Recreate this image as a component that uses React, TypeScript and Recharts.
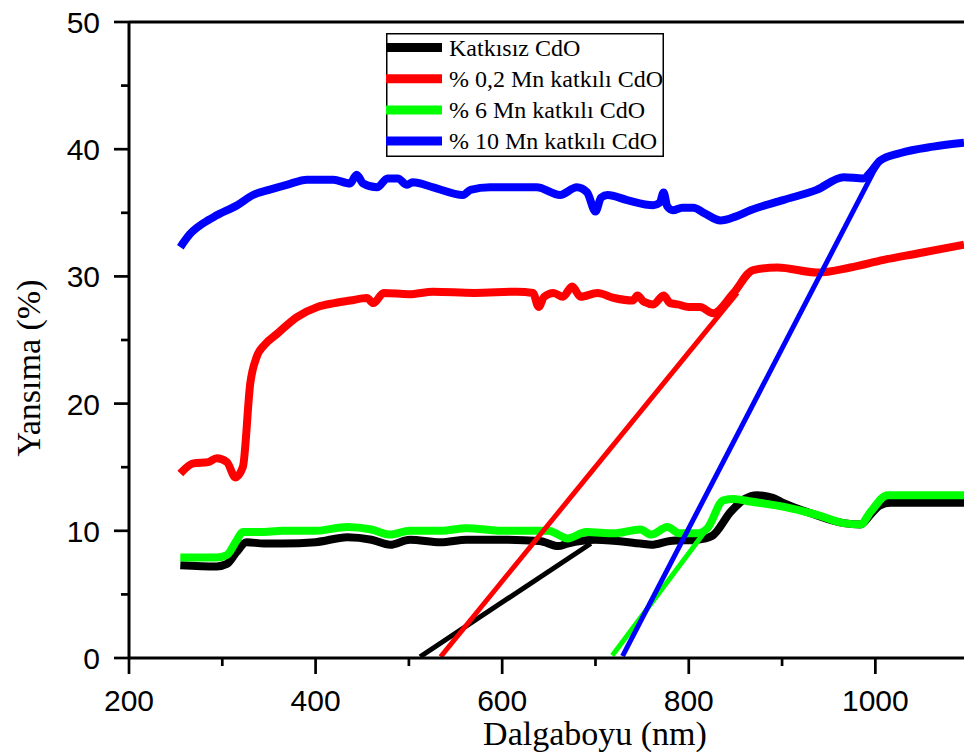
import React from 'react';
import { LineChart, Line, XAxis, YAxis, ReferenceLine, Legend, Label } from 'recharts';

// Wavelength (nm) / reflectance (%) pairs
const katkisizCurve: [number, number][] = [
  [255, 7.3], [294, 7.2], [305, 7.4], [315, 8.3], [326, 9.1], [345, 9.0], [365, 9.0], [400, 9.1],
  [434, 9.5], [460, 9.3], [480, 8.9], [501, 9.3], [534, 9.1], [562, 9.3], [600, 9.3], [640, 9.2],
  [660, 8.8], [670, 9.0], [700, 9.3], [748, 9.0], [760, 8.9], [780, 9.2], [809, 9.3], [825, 9.6],
  [845, 11.5], [860, 12.5], [873, 12.8], [890, 12.6], [901, 12.2], [930, 11.4], [966, 10.6],
  [984, 10.5], [995, 11.3], [1005, 12.0], [1016, 12.2], [1095, 12.2],
];
const mn02Curve: [number, number][] = [
  [255, 14.5], [269, 15.3], [285, 15.4], [294, 15.7], [305, 15.4], [314, 14.2], [322, 15.0],
  [330, 21.6], [337, 23.7], [345, 24.6], [359, 25.5], [380, 26.8], [402, 27.6], [420, 27.9],
  [437, 28.1], [455, 28.3], [462, 27.9], [473, 28.7], [500, 28.6], [526, 28.8], [570, 28.7],
  [616, 28.8], [633, 28.7], [639, 27.6], [645, 28.4], [655, 28.7], [665, 28.4], [675, 29.2],
  [684, 28.4], [702, 28.7], [720, 28.3], [740, 28.1], [745, 28.5], [752, 28.0], [762, 27.8],
  [773, 28.5], [780, 27.9], [788, 27.8], [800, 27.6], [812, 27.6], [826, 27.1], [848, 28.7],
  [869, 30.5], [895, 30.7], [938, 30.3], [973, 30.7], [1009, 31.3], [1045, 31.8], [1095, 32.5],
];
const mn6Curve: [number, number][] = [
  [255, 7.9], [294, 7.9], [305, 8.1], [315, 9.2], [322, 9.9], [340, 9.9], [365, 10.0], [400, 10.0],
  [434, 10.3], [460, 10.1], [480, 9.7], [501, 10.0], [534, 10.0], [562, 10.2], [600, 10.0],
  [650, 10.0], [660, 9.7], [670, 9.4], [690, 9.9], [720, 9.8], [748, 10.1], [760, 9.7],
  [777, 10.3], [790, 9.8], [809, 9.8], [820, 10.2], [837, 12.4], [848, 12.5], [866, 12.3],
  [901, 11.9], [940, 11.2], [966, 10.6], [984, 10.5], [995, 11.5], [1013, 12.8], [1095, 12.8],
];
const mn10Curve: [number, number][] = [
  [255, 32.3], [265, 33.3], [280, 34.2], [294, 34.8], [316, 35.6], [333, 36.4], [350, 36.8],
  [369, 37.2], [391, 37.6], [419, 37.6], [437, 37.3], [444, 38.0], [451, 37.3], [466, 37.0],
  [477, 37.7], [488, 37.7], [498, 37.2], [504, 37.4], [526, 37.0], [558, 36.4], [566, 36.8],
  [587, 37.0], [609, 37.0], [637, 37.0], [662, 36.4], [680, 37.0], [691, 36.6], [700, 35.1],
  [706, 36.2], [713, 36.4], [734, 36.0], [762, 35.6], [769, 35.8], [773, 36.6], [777, 35.5],
  [783, 35.2], [793, 35.4], [805, 35.4], [816, 35.0], [834, 34.4], [850, 34.7], [866, 35.2],
  [901, 36.0], [937, 36.8], [966, 37.8], [987, 37.7], [995, 38.2], [1005, 39.1], [1027, 39.7],
  [1062, 40.2], [1095, 40.5],
];

// Linear band-edge fits
const katkisizFit: [number, number][] = [[512, 0.1], [695, 9.0]];
const mn02Fit: [number, number][] = [[534, 0.1], [852, 28.7]];
const mn6Fit: [number, number][] = [[718, 0.2], [820, 10.2]];
const mn10Fit: [number, number][] = [[729, 0.15], [1005, 39.2]];

const seriesNames = ['Katkısız CdO', '% 0,2 Mn katkılı CdO', '% 6 Mn katkılı CdO', '% 10 Mn katkılı CdO'];
const seriesColors = ['#000000', '#ff0000', '#00ff00', '#0000ff'];

const xTicks = [200, 300, 400, 500, 600, 700, 800, 900, 1000];
const yTicks = [0, 5, 10, 15, 20, 25, 30, 35, 40, 45, 50];

const SANS = '"Liberation Sans", Arial, sans-serif';
const SERIF = '"Liberation Serif", "Times New Roman", serif';

const toRows = (pts: [number, number][]) => pts.map(([x, y]) => ({ x, y }));

const XTick = (props: any) => {
  const { x, y, payload } = props;
  const major = payload.value % 200 === 0;
  return (
    <g>
      <line x1={x} x2={x} y1={y} y2={y + (major ? 16 : 8)} stroke="#000" strokeWidth={2.7} />
      {major && (
        <text x={x} y={y + 53} textAnchor="middle" fill="#000" style={{ fontFamily: SANS, fontSize: 30 }}>
          {payload.value}
        </text>
      )}
    </g>
  );
};

const YTick = (props: any) => {
  const { x, y, payload } = props;
  const major = payload.value % 10 === 0;
  return (
    <g>
      <line x1={x - (major ? 15 : 8)} x2={x} y1={y} y2={y} stroke="#000" strokeWidth={2.7} />
      {major && (
        <text x={x - 29} y={y + 11} textAnchor="end" fill="#000" style={{ fontFamily: SANS, fontSize: 30 }}>
          {payload.value}
        </text>
      )}
    </g>
  );
};

const LegendBox = () => (
  <svg width={278} height={124} style={{ display: 'block' }}>
    <rect x={0.75} y={0.75} width={276.5} height={122.5} fill="#fff" stroke="#000" strokeWidth={1.5} />
    {seriesNames.map((n, i) => {
      const cy = 14.5 + i * 31.2;
      return (
        <g key={n}>
          <line x1={0} x2={56} y1={cy} y2={cy} stroke={seriesColors[i]} strokeWidth={9} />
          <text x={63} y={cy + 8} fill="#000" style={{ fontFamily: SERIF, fontSize: 24 }}>
            {n}
          </text>
        </g>
      );
    })}
  </svg>
);

export default function App() {
  const curves = [katkisizCurve, mn02Curve, mn6Curve, mn10Curve];
  const fits = [katkisizFit, mn02Fit, mn6Fit, mn10Fit];
  return (
    <div style={{ position: 'absolute', left: 0, top: 0, width: 964, height: 754, background: '#fff' }}>
      <LineChart width={964} height={754} margin={{ top: 22, right: 0, left: 0, bottom: 0 }}>
        <XAxis
          type="number"
          dataKey="x"
          domain={[200, 1095]}
          ticks={xTicks}
          allowDataOverflow
          height={96}
          tickSize={0}
          tickMargin={0}
          tickLine={false}
          tick={<XTick />}
          axisLine={{ stroke: '#000', strokeWidth: 3 }}
          interval={0}
        >
          <Label
            content={() => (
              <text x={595} y={745} textAnchor="middle" fill="#000" style={{ fontFamily: SERIF, fontSize: 34 }}>
                Dalgaboyu (nm)
              </text>
            )}
          />
        </XAxis>
        <YAxis
          type="number"
          dataKey="y"
          domain={[0, 50]}
          ticks={yTicks}
          allowDataOverflow
          width={129}
          tickSize={0}
          tickMargin={0}
          tickLine={false}
          tick={<YTick />}
          axisLine={{ stroke: '#000', strokeWidth: 3 }}
          interval={0}
        >
          <Label
            content={() => (
              <text
                x={28}
                y={368}
                transform="rotate(-90 28 368)"
                textAnchor="middle"
                dominantBaseline="central"
                fill="#000"
                style={{ fontFamily: SERIF, fontSize: 34 }}
              >
                Yansıma (%)
              </text>
            )}
          />
        </YAxis>
        <ReferenceLine y={50} stroke="#000" strokeWidth={3} />
        {curves.map((c, i) => (
          <Line
            key={'c' + i}
            data={toRows(c)}
            dataKey="y"
            name={seriesNames[i]}
            type="monotone"
            stroke={seriesColors[i]}
            strokeWidth={8}
            strokeLinejoin="round"
            dot={false}
            activeDot={false}
            isAnimationActive={false}
          />
        ))}
        {fits.map((c, i) => (
          <Line
            key={'f' + i}
            data={toRows(c)}
            dataKey="y"
            name={seriesNames[i] + ' fit'}
            type="linear"
            stroke={seriesColors[i]}
            strokeWidth={5}
            dot={false}
            activeDot={false}
            legendType="none"
            isAnimationActive={false}
          />
        ))}
        <Legend
          layout="vertical"
          align="center"
          verticalAlign="middle"
          content={() => <LegendBox />}
          wrapperStyle={{ position: 'absolute', left: 386, top: 33, width: 278, height: 124 }}
        />
      </LineChart>
    </div>
  );
}
